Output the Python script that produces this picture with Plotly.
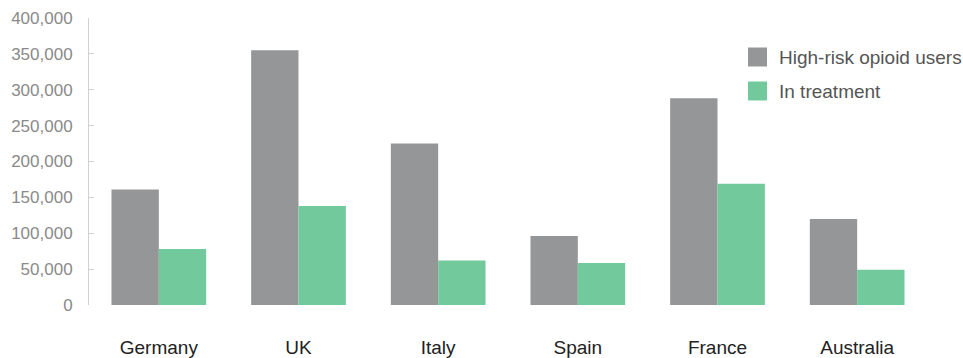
import plotly.graph_objects as go

countries = ["Germany", "UK", "Italy", "Spain", "France", "Australia"]
high_risk_users = [161000, 355000, 225000, 96000, 288000, 120000]
in_treatment = [78000, 138000, 62000, 58500, 169000, 49000]
y_ticks = [0, 50000, 100000, 150000, 200000, 250000, 300000, 350000, 400000]
y_tick_text = [f"{v:,}" for v in y_ticks]

GRAY = "#959697"
GREEN = "#72C99B"
FONT = "Liberation Sans, Arial, sans-serif"

W, H = 963, 358
M_L, M_R, M_T, M_B = 89, 36, 18, 53
PLOT_W = W - M_L - M_R
PLOT_H = H - M_T - M_B

fig = go.Figure()
fig.add_trace(go.Bar(name="High-risk opioid users", x=countries, y=high_risk_users,
                     marker=dict(color=GRAY, line=dict(width=0))))
fig.add_trace(go.Bar(name="In treatment", x=countries, y=in_treatment,
                     marker=dict(color=GREEN, line=dict(width=0))))

fig.update_layout(
    width=W, height=H,
    margin=dict(l=M_L, r=M_R, t=M_T, b=M_B),
    paper_bgcolor="white", plot_bgcolor="white",
    barmode="group", bargap=0.322, bargroupgap=0,
    showlegend=False,
    font=dict(family=FONT),
)
fig.update_xaxes(
    showline=False, showgrid=False, ticks="",
    tickfont=dict(size=19, color="#222222"),
    ticklabelstandoff=29, automargin=False,
)
fig.update_yaxes(
    range=[0, 400000], tickvals=y_ticks, ticktext=y_tick_text,
    showgrid=False, zeroline=False,
    showline=True, linecolor="#d0d0d0", linewidth=1,
    ticks="inside", ticklen=5, tickcolor="#d0d0d0",
    tickfont=dict(size=17, color="#8a8a8a"),
    ticklabelstandoff=12, automargin=False,
)


def px_x(x):
    return (x - M_L) / PLOT_W


def px_y(y):
    return (H - M_B - y) / PLOT_H


# Legend: colour swatches with labels at the upper right
legend_items = [("High-risk opioid users", GRAY), ("In treatment", GREEN)]
for i, (label, color) in enumerate(legend_items):
    yc = 57 + 34 * i
    fig.add_shape(type="rect", xref="paper", yref="paper",
                  x0=px_x(748), x1=px_x(767),
                  y0=px_y(yc + 9.5), y1=px_y(yc - 9.5),
                  fillcolor=color, line=dict(width=0))
    fig.add_annotation(xref="paper", yref="paper", x=px_x(777),
                       y=px_y(yc), text=label, showarrow=False,
                       xanchor="left", yanchor="middle",
                       font=dict(size=19, color="#555555", family=FONT))

fig.write_html("out.html")
